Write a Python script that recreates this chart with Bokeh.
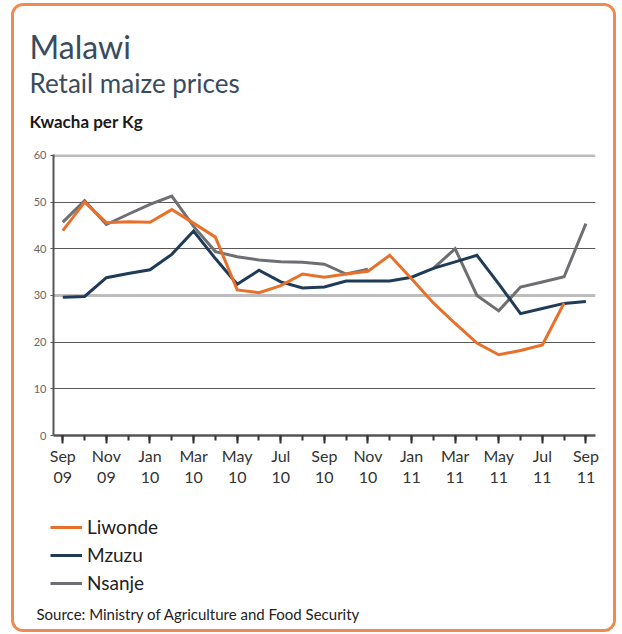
import numpy as np
from bokeh.plotting import figure
from bokeh.layouts import column
from bokeh.models import (Range1d, FixedTicker, Label, Legend, LegendItem, Grid)
from bokeh.embed import file_html
from bokeh.resources import INLINE

# ---- data (monthly, Sep 2009 - Sep 2011) ----
months = list(range(25))
tick_months = [0, 2, 4, 6, 8, 10, 12, 14, 16, 18, 20, 22, 24]
tick_labels = ["Sep\n09", "Nov\n09", "Jan\n10", "Mar\n10", "May\n10", "Jul\n10",
               "Sep\n10", "Nov\n10", "Jan\n11", "Mar\n11", "May\n11", "Jul\n11", "Sep\n11"]

liwonde = [43.9, 50.0, 45.6, 45.8, 45.7, 48.4, 45.5, 42.5, 31.2, 30.6, 32.1, 34.6, 33.9,
           34.6, 35.2, 38.6, 33.6, 28.4, 24.0, 19.8, 17.3, 18.2, 19.4, 28.4, np.nan]
mzuzu = [29.6, 29.8, 33.8, 34.7, 35.5, 38.8, 43.8, 37.9, 32.4, 35.4, 32.9, 31.6, 31.8,
         33.1, 33.1, 33.1, 33.9, 35.8, 37.2, 38.6, 32.5, 26.1, 27.2, 28.3, 28.7]
nsanje = [45.7, 50.3, 45.2, 47.4, 49.5, 51.3, 44.8, 39.4, 38.3, 37.6, 37.2, 37.1, 36.7,
          34.6, 35.6, np.nan, np.nan, 35.8, 40.0, 30.0, 26.7, 31.8, 32.9, 34.0, 45.4]

series_names = ["Liwonde", "Mzuzu", "Nsanje"]
y_ticks = [0, 10, 20, 30, 40, 50, 60]

ORANGE = "#e8702a"
NAVY = "#1f3b57"
GRAY = "#6e6f72"
TITLE_C = "#3a4b5e"
FONT = "Lato"

W = 599
H_HEAD, H_CHART, H_FOOT = 140, 351, 132


def bare(height, **kw):
    f = figure(width=W, height=height, output_backend="svg", toolbar_location=None,
               x_axis_type=None, y_axis_type=None, min_border=0, **kw)
    f.outline_line_color = None
    f.grid.visible = False
    f.background_fill_color = "white"
    f.border_fill_color = "white"
    try:
        f.frame_align = False
    except Exception:
        pass
    return f


def lab(fig, text, x, y, size, color, style="normal"):
    fig.add_layout(Label(x=x, y=y, x_units="screen", y_units="screen", text=text,
                         text_font=FONT, text_font_size=size, text_color=color,
                         text_font_style=style, text_baseline="alphabetic",
                         text_align="left"))


# ---- header (titles) ----
head = bare(H_HEAD, x_range=Range1d(0, 1), y_range=Range1d(0, 1))
lab(head, "Malawi", 15, 100, "32px", TITLE_C)
lab(head, "Retail maize prices", 15, 64, "26px", TITLE_C)
lab(head, "Kwacha per Kg", 15, 25, "17px", "#1a1a1a", "bold")

# ---- chart ----
p = figure(width=W, height=H_CHART, output_backend="svg", toolbar_location=None,
           x_range=Range1d(-0.427, 24.44), y_range=Range1d(0, 60.2),
           min_border_left=39, min_border_right=18, min_border_top=8,
           min_border_bottom=62)
try:
    p.frame_align = False
except Exception:
    pass
p.outline_line_color = None
p.background_fill_color = "white"
p.border_fill_color = "white"

p.xgrid.visible = False
p.ygrid.ticker = FixedTicker(ticks=[10, 20, 40, 50])
p.ygrid.grid_line_color = "#5a5a5a"
p.ygrid.grid_line_width = 1.2
p.add_layout(Grid(dimension=1, ticker=FixedTicker(ticks=[30, 60]),
                  grid_line_color="#bdbdbd", grid_line_width=3))

p.xaxis.ticker = FixedTicker(ticks=tick_months, minor_ticks=months)
p.xaxis.major_label_overrides = {m: l for m, l in zip(tick_months, tick_labels)}
p.xaxis.axis_line_color = "#555555"
p.xaxis.axis_line_width = 2.5
p.xaxis.major_tick_line_color = "#333333"
p.xaxis.major_tick_line_width = 2
p.xaxis.major_tick_out = 8
p.xaxis.major_tick_in = 0
p.xaxis.minor_tick_line_color = "#333333"
p.xaxis.minor_tick_line_width = 2
p.xaxis.minor_tick_out = 5
p.xaxis.minor_tick_in = 0
p.xaxis.major_label_text_font = FONT
p.xaxis.major_label_text_font_size = "16px"
p.xaxis.major_label_text_color = "#333333"
p.xaxis.major_label_text_line_height = 1.15
p.xaxis.major_label_standoff = 2

p.yaxis.ticker = FixedTicker(ticks=y_ticks, minor_ticks=[])
p.yaxis.axis_line_color = "#555555"
p.yaxis.axis_line_width = 2
p.yaxis.major_tick_out = 3
p.yaxis.major_tick_in = 0
p.yaxis.major_tick_line_color = "#555555"
p.yaxis.minor_tick_line_color = None
p.yaxis.major_label_text_font = FONT
p.yaxis.major_label_text_font_size = "11px"
p.yaxis.major_label_text_color = "#666666"
p.yaxis.major_label_standoff = 4

p.line(months, nsanje, line_color=GRAY, line_width=3, line_join="miter")
p.line(months, mzuzu, line_color=NAVY, line_width=3, line_join="miter")
p.line(months, liwonde, line_color=ORANGE, line_width=3, line_join="miter")

# ---- footer (legend + source) ----
foot = bare(H_FOOT, x_range=Range1d(-100, -99), y_range=Range1d(0, 60.2))
items = []
for name, vals, col in zip(series_names, [liwonde, mzuzu, nsanje], [ORANGE, NAVY, GRAY]):
    r = foot.line(months, vals, line_color=col, line_width=3)
    items.append(LegendItem(label=name, renderers=[r]))
foot.add_layout(Legend(items=items, location=(36, 35), orientation="vertical",
                       glyph_width=32, glyph_height=20, label_height=20,
                       label_standoff=5, spacing=5, padding=0, margin=0,
                       border_line_color=None, background_fill_alpha=0,
                       label_text_font=FONT, label_text_font_size="19px",
                       label_text_color="#222222"), "center")
lab(foot, "Source: Ministry of Agriculture and Food Security", 22, 16, "15px", "#222222")

layout = column(head, p, foot, spacing=0)
layout.styles = {"position": "absolute", "left": "11px", "top": "3px",
                 "border": "3px solid #ef8a50", "border-radius": "12px",
                 "box-sizing": "content-box", "overflow": "hidden",
                 "background-color": "white"}

open("out.html", "w").write(file_html(layout, INLINE))
